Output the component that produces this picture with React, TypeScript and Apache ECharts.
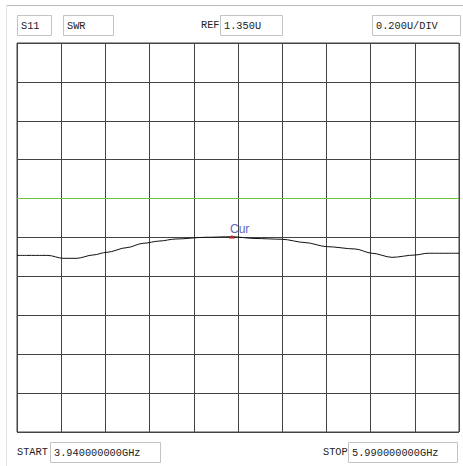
import React, { useEffect, useRef } from "react";
import * as echarts from "echarts";

// Trace values
const freqGHz = [3.94, 4.084, 4.153, 4.218, 4.292, 4.357, 4.45, 4.524, 4.603, 4.673, 4.812, 4.937, 5.044, 5.169, 5.276, 5.378, 5.508, 5.587, 5.679, 5.786, 5.846, 5.99];
const swrValues = [1.058, 1.058, 1.043, 1.043, 1.06, 1.074, 1.098, 1.12, 1.132, 1.142, 1.151, 1.154, 1.145, 1.141, 1.124, 1.103, 1.091, 1.069, 1.048, 1.06, 1.069, 1.069];
const cursorPoint = [4.937, 1.154];

const startGHz = 3.94;
const stopGHz = 5.99;
const refValue = 1.35;
const perDiv = 0.2;
const refDivFromTop = 4;
const divisions = 10;

const paramLabel = "S11";
const formatLabel = "SWR";
const refLabel = "REF";
const refText = "1.350U";
const divText = "0.200U/DIV";
const startLabel = "START";
const startText = "3.940000000GHz";
const stopLabel = "STOP";
const stopText = "5.990000000GHz";

const FONT = "Liberation Mono";

function textStyle(text: string) {
  return {
    text,
    fill: "#222",
    fontFamily: FONT,
    fontSize: 10.3,
    verticalAlign: "middle",
    textVerticalAlign: "middle",
  };
}

function box(x: number, y: number, w: number, h: number, text: string) {
  return [
    {
      type: "rect",
      shape: { x: x + 0.5, y: y + 0.5, width: w, height: h },
      style: { fill: "#fff", stroke: "#c4c4c4", lineWidth: 1 },
    },
    { type: "text", x: x + 4, y: y + h / 2 + 1, style: textStyle(text) },
  ];
}

function label(x: number, y: number, text: string) {
  return { type: "text", x, y, style: textStyle(text) };
}

export default function App() {
  const ref = useRef<HTMLDivElement>(null);
  useEffect(() => {
    if (!ref.current) return;
    const chart = echarts.init(ref.current, undefined, { renderer: "svg" });
    const yMax = refValue + refDivFromTop * perDiv;
    const yMin = yMax - divisions * perDiv;
    const gridLine = { color: "#444", width: 1 };
    const option: any = {
      animation: false,
      backgroundColor: "#fff",
      grid: { left: 17, top: 43, width: 442, height: 389, show: true, borderColor: "#444", borderWidth: 1 },
      xAxis: [
        {
          type: "value",
          min: 0,
          max: divisions,
          interval: 1,
          axisLine: { show: false },
          axisTick: { show: false },
          axisLabel: { show: false },
          splitLine: { show: true, lineStyle: gridLine },
        },
        { type: "value", min: startGHz, max: stopGHz, show: false, splitLine: { show: false } },
      ],
      yAxis: [
        {
          type: "value",
          min: 0,
          max: divisions,
          interval: 1,
          axisLine: { show: false },
          axisTick: { show: false },
          axisLabel: { show: false },
          splitLine: { show: true, lineStyle: gridLine },
        },
        { type: "value", min: yMin, max: yMax, show: false, splitLine: { show: false } },
      ],
      series: [
        {
          type: "line",
          xAxisIndex: 1,
          yAxisIndex: 1,
          data: freqGHz.map((f, i) => [f, swrValues[i]]),
          symbol: "none",
          smooth: 0.3,
          smoothMonotone: "x",
          lineStyle: { color: "#111", width: 1 },
          markLine: {
            silent: true,
            symbol: "none",
            label: { show: false },
            lineStyle: { color: "#6ec43c", width: 1, type: "solid" },
            data: [{ yAxis: refValue }],
          },
          z: 3,
        },
        {
          type: "scatter",
          xAxisIndex: 1,
          yAxisIndex: 1,
          data: [cursorPoint],
          symbol: "triangle",
          symbolSize: [6, 4],
          itemStyle: { color: "#e02020" },
          label: {
            show: true,
            formatter: "Cur",
            position: [1, -12],
            color: "#3535b0",
            fontSize: 12,
            fontFamily: "Liberation Sans",
          },
          z: 4,
        },
      ],
      graphic: [
        { type: "line", shape: { x1: 6, y1: 5.5, x2: 463, y2: 5.5 }, style: { stroke: "#b8b8b8", lineWidth: 1 } },
        { type: "line", shape: { x1: 6.5, y1: 5, x2: 6.5, y2: 466 }, style: { stroke: "#e6e6e6", lineWidth: 1 } },
        ...box(17, 15, 34, 20, paramLabel),
        ...box(63, 15, 50, 20, formatLabel),
        label(201, 25, refLabel),
        ...box(220, 15, 62, 20, refText),
        ...box(372, 15, 88, 20, divText),
        label(17, 452, startLabel),
        ...box(50, 442, 110, 20, startText),
        label(323, 452, stopLabel),
        ...box(348, 442, 109, 20, stopText),
      ],
    };
    chart.setOption(option);
    return () => chart.dispose();
  }, []);
  return (
    <div
      ref={ref}
      style={{ position: "fixed", left: 0, top: 0, width: 463, height: 466, background: "#fff" }}
    />
  );
}
